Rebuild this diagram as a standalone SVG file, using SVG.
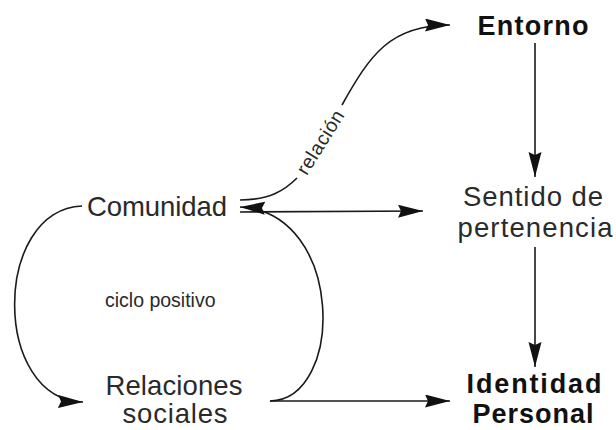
<svg xmlns="http://www.w3.org/2000/svg" width="616" height="430" viewBox="0 0 616 430">
<defs>
<style>
.lbl{font-family:"Liberation Sans",Arial,sans-serif;font-size:27.5px;fill:#2a2a2a;text-anchor:middle}
.bold{font-weight:bold;fill:#111;font-size:27px}
.small{font-family:"Liberation Sans",Arial,sans-serif;font-size:19.5px;fill:#2a2a2a}
.edge{fill:none;stroke:#1a1a1a;stroke-width:1.6;marker-end:url(#arrow)}
.plain{fill:none;stroke:#1a1a1a;stroke-width:1.6}
</style>
<marker id="arrow" markerUnits="userSpaceOnUse" markerWidth="26" markerHeight="14" refX="25" refY="6.5" orient="auto">
<path d="M0,0 L25,6.5 L0,13 L3,6.5 z" fill="#111"/>
</marker>
</defs>
<rect width="616" height="430" fill="#fff"/>
<g id="connectors">
<path class="plain" d="M240,200 C270,200 285,190 297,178"/>
<path class="edge" d="M342,105 C370,55 390,25 450,25"/>
<path class="edge" d="M240,212 L423,211"/>
<path class="edge" d="M270,401 C345,400 345,212 240,207"/>
<path class="edge" d="M82,206 C-8,210 -8,400 83,402"/>
<path class="edge" d="M270,401 L450,401"/>
<path class="edge" d="M535,43 L535,177"/>
<path class="edge" d="M535,247 L535,367"/>
<text class="small" x="0" y="0" text-anchor="middle" dominant-baseline="central" textLength="72" transform="translate(320,142) rotate(-58)">relación</text>
</g>
<g id="entorno"><text class="lbl bold" x="533" y="35" textLength="111">Entorno</text></g>
<g id="sentido"><text class="lbl" x="533" y="206" textLength="140">Sentido de</text><text class="lbl" x="535" y="237" textLength="155">pertenencia</text></g>
<g id="identidad"><text class="lbl bold" x="534" y="393" textLength="135">Identidad</text><text class="lbl bold" x="533" y="423" textLength="121">Personal</text></g>
<g id="comunidad"><text class="lbl" x="157" y="216" textLength="140">Comunidad</text></g>
<g id="relaciones"><text class="lbl" x="174" y="395" textLength="137">Relaciones</text><text class="lbl" x="175" y="423" textLength="105">sociales</text></g>
<g id="ciclo"><text class="small" x="105" y="307">ciclo positivo</text></g>
</svg>
